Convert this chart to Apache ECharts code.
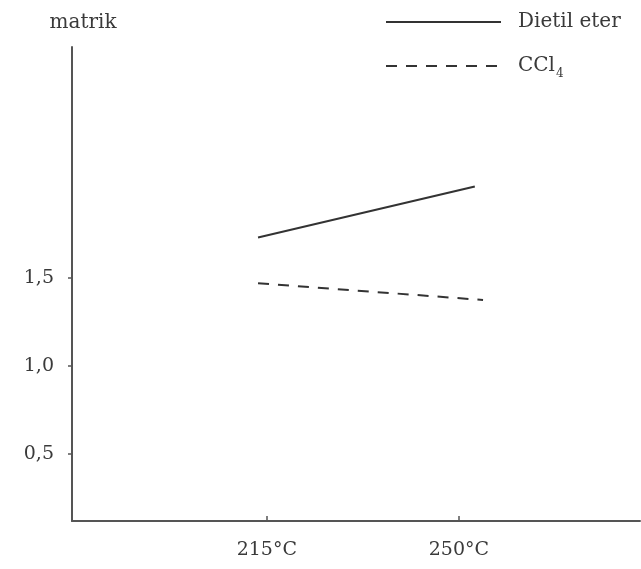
<!DOCTYPE html>
<html>
<head>
<meta charset="utf-8">
<script src="https://cdn.jsdelivr.net/npm/echarts@6/dist/echarts.min.js"></script>
<style>
html,body{margin:0;padding:0;background:#fff;}
#chart{width:641px;height:569px;}
</style>
</head>
<body>
<div id="chart"></div>
<script>
// ---- data ----
var seriesNames = ['Dietil eter', 'CCl4'];
var dietilX = [213.4, 252.9];
var dietilY = [1.73, 2.02];
var cclX = [213.4, 254.4];
var cclY = [1.47, 1.375];
var xTickValues = [215, 250];
var yTickValues = [0.5, 1.0, 1.5];
var yAxisName = 'matrik';

function pairs(xs, ys) { return xs.map(function (x, i) { return [x, ys[i]]; }); }

var FONT = 'DejaVu Serif';
var TXT = '#3a3a3a';
var LINE = '#333';

var chart = echarts.init(document.getElementById('chart'), null, {renderer: 'canvas'});
chart.setOption({
  backgroundColor: '#fff',
  animation: false,
  grid: {left: 72, top: 47, right: 1, bottom: 48, containLabel: false},
  legend: [
    {
      data: [seriesNames[0]],
      left: 380, top: 7,
      itemWidth: 115, itemHeight: 20,
      itemStyle: {opacity: 0},
      textStyle: {fontFamily: FONT, fontSize: 20, color: TXT, padding: [0, 0, 0, 12], lineHeight: 20}
    },
    {
      data: [seriesNames[1]],
      left: 380, top: 47,
      itemWidth: 115, itemHeight: 20,
      itemStyle: {opacity: 0},
      formatter: function () { return '{a|CCl}{s|4}'; },
      textStyle: {
        fontFamily: FONT, fontSize: 20, color: TXT, padding: [0, 0, 0, 12], lineHeight: 20,
        rich: {
          a: {fontFamily: FONT, fontSize: 20, color: TXT, lineHeight: 20},
          s: {fontFamily: FONT, fontSize: 12, color: TXT, lineHeight: 20, padding: [16, 0, 0, 1]}
        }
      }
    }
  ],
  xAxis: {
    type: 'value',
    min: 179.5, max: 283,
    splitLine: {show: false},
    axisLine: {show: true, onZero: false, lineStyle: {color: '#555', width: 2}},
    axisTick: {show: true, inside: true, length: 5, customValues: xTickValues, lineStyle: {color: '#555', width: 1.5}},
    axisLabel: {
      customValues: xTickValues, margin: 20,
      fontFamily: FONT, fontSize: 19, color: TXT,
      formatter: function (v) { return v + '°C'; }
    }
  },
  yAxis: {
    type: 'value',
    min: 0.119, max: 2.8125,
    name: yAxisName,
    nameLocation: 'end',
    nameGap: 14,
    nameTextStyle: {fontFamily: FONT, fontSize: 20, color: TXT, align: 'center', padding: [0, 0, 0, 22]},
    splitLine: {show: false},
    axisLine: {show: true, onZero: false, lineStyle: {color: '#555', width: 2}},
    axisTick: {show: true, inside: false, length: 4, customValues: yTickValues, lineStyle: {color: '#555', width: 1.5}},
    axisLabel: {
      customValues: yTickValues, margin: 18,
      fontFamily: FONT, fontSize: 19, color: TXT,
      formatter: function (v) { return v.toFixed(1).replace('.', ','); }
    }
  },
  series: [
    {
      name: seriesNames[0], type: 'line', symbol: 'none',
      data: pairs(dietilX, dietilY),
      lineStyle: {color: LINE, width: 2, type: 'solid'},
      itemStyle: {color: LINE}
    },
    {
      name: seriesNames[1], type: 'line', symbol: 'none',
      data: pairs(cclX, cclY),
      lineStyle: {color: LINE, width: 2, type: [11, 9]},
      itemStyle: {color: LINE}
    }
  ]
});
</script>
</body>
</html>
